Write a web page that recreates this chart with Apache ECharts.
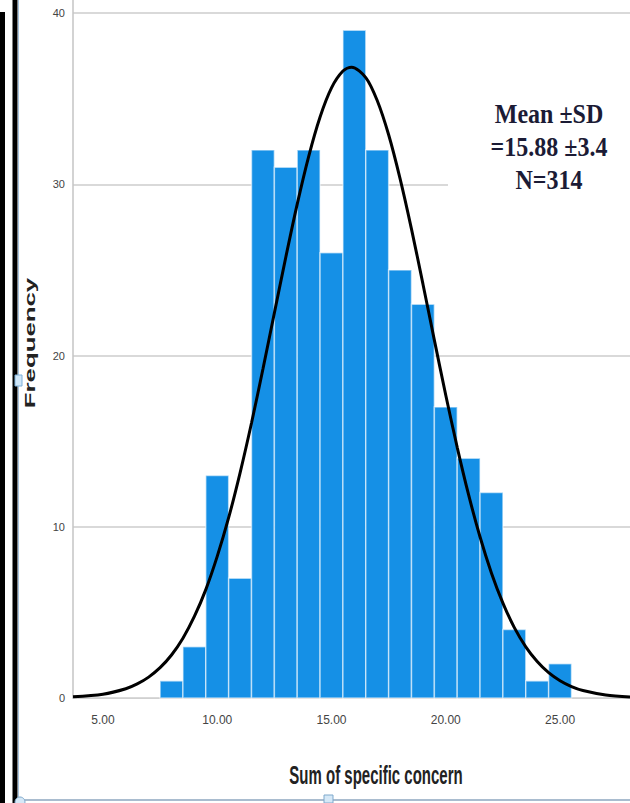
<!DOCTYPE html>
<html>
<head>
<meta charset="utf-8">
<title>Sum of specific concern</title>
<script src="https://cdn.jsdelivr.net/npm/echarts@6/dist/echarts.min.js"></script>
<style>
  html, body { margin: 0; padding: 0; background: #fff; }
  #chart { width: 630px; height: 803px; }
</style>
</head>
<body>
<div id="chart"></div>
<script>
// histogram: bin centres and counts (N = 314)
const binCenters = [8, 9, 10, 11, 12, 13, 14, 15, 16, 17, 18, 19, 20, 21, 22, 23, 24, 25];
const counts = [1, 3, 13, 7, 32, 31, 32, 26, 39, 32, 25, 23, 17, 14, 12, 4, 1, 2];
const binWidth = 1;

// normal curve, points
const curveX = [3.69, 5, 6, 6.5, 7, 7.5, 8, 8.5, 9, 9.5, 10, 10.5, 11, 11.5, 12, 12.5, 13, 13.5, 14, 14.5,
  15, 15.5, 15.88, 16.5, 17, 17.5, 18, 18.5, 19, 19.5, 20, 20.5, 21, 21.5, 22, 22.5, 23, 23.5, 24, 24.5,
  25, 25.5, 26, 27, 28.06];
const curveY = [0.07, 0.22, 0.54, 0.82, 1.22, 1.77, 2.51, 3.49, 4.76, 6.33, 8.27, 10.53, 13.15, 16.06, 19.21, 22.48, 25.74, 28.84, 31.62, 33.93,
  35.63, 36.61, 36.84, 36.23, 34.89, 32.89, 30.33, 27.38, 24.18, 20.9, 17.68, 14.64, 11.86, 9.4, 7.29, 5.54, 4.11, 2.99, 2.13, 1.48,
  1.01, 0.67, 0.44, 0.18, 0.06];

const xTicks = [5, 10, 15, 20, 25];
const yTicks = [0, 10, 20, 30, 40];

const statsText = ['Mean \u00b1SD', '=15.88 \u00b13.4', 'N=314'];

const chart = echarts.init(document.getElementById('chart'), null, { renderer: 'svg' });

function renderBar(params, api) {
  const c = api.value(0);
  const v = api.value(1);
  const p0 = api.coord([c - binWidth / 2, v]);
  const p1 = api.coord([c + binWidth / 2, 0]);
  return {
    type: 'rect',
    shape: { x: p0[0], y: p0[1], width: p1[0] - p0[0], height: p1[1] - p0[1] },
    style: { fill: '#1590e6', stroke: 'rgba(255,255,255,0.55)', lineWidth: 1.5 }
  };
}

chart.setOption({
  animation: false,
  backgroundColor: '#fff',
  grid: { left: 73, right: 0, top: 0, bottom: 105 },
  xAxis: {
    type: 'value',
    min: 3.69,
    max: 28.06,
    axisLine: { lineStyle: { color: '#d0d0d0', width: 1 } },
    axisTick: { show: false, customValues: xTicks },
    axisLabel: {
      customValues: xTicks,
      formatter: v => v.toFixed(2),
      fontSize: 12,
      fontFamily: 'Liberation Sans',
      color: '#444',
      margin: 16
    },
    splitLine: { show: false }
  },
  yAxis: {
    type: 'value',
    min: 0,
    max: 40.76,
    axisLine: { show: true, lineStyle: { color: '#c4c4c4', width: 1.5 } },
    axisTick: { show: false, customValues: yTicks },
    axisLabel: {
      customValues: yTicks,
      fontSize: 11,
      fontFamily: 'Liberation Sans',
      color: '#444',
      margin: 8
    },
    splitLine: { lineStyle: { color: '#d9d9d9', width: 2 } }
  },
  series: [
    {
      type: 'custom',
      renderItem: renderBar,
      encode: { x: 0, y: 1 },
      data: binCenters.map((c, i) => [c, counts[i]]),
      z: 2
    },
    {
      type: 'line',
      data: curveX.map((x, i) => [x, curveY[i]]),
      smooth: 0.3,
      symbol: 'none',
      lineStyle: { color: '#000', width: 3 },
      z: 3
    }
  ],
  graphic: [
    // white box behind the stats text (hides part of the 30 gridline)
    { type: 'rect', z: 1, shape: { x: 448, y: 92, width: 182, height: 104 }, style: { fill: '#fff' } },
    {
      type: 'text', z: 10, x: 549, y: 147, scaleY: 1.13,
      style: {
        text: statsText.join('\n'),
        font: 'bold 24px "Liberation Serif"',
        fill: '#1b1b35',
        align: 'center', verticalAlign: 'middle',
        textAlign: 'center', textVerticalAlign: 'middle',
        lineHeight: 29
      }
    },
    {
      type: 'text', z: 10, x: 30, y: 343, rotation: Math.PI / 2, scaleX: 1.72,
      style: {
        text: 'Frequency',
        font: 'bold 15px "Liberation Sans"',
        fill: '#222',
        align: 'center', verticalAlign: 'middle',
        textAlign: 'center', textVerticalAlign: 'middle'
      }
    },
    {
      type: 'text', z: 10, x: 376, y: 775, scaleY: 1.7,
      style: {
        text: 'Sum of specific concern',
        font: 'bold 15px "Liberation Sans"',
        fill: '#222',
        align: 'center', verticalAlign: 'middle',
        textAlign: 'center', textVerticalAlign: 'middle'
      }
    },
    // frame bits from the screenshot
    { type: 'rect', z: 10, shape: { x: 0, y: 12, width: 5, height: 791 }, style: { fill: '#000' } },
    { type: 'rect', z: 10, shape: { x: 12.5, y: 0, width: 5, height: 803 }, style: { fill: '#000' } },
    { type: 'rect', z: 10, shape: { x: 18, y: 0, width: 1, height: 803 }, style: { fill: '#a8c4de' } },
    { type: 'rect', z: 11, shape: { x: 15, y: 375, width: 7, height: 11 }, style: { fill: '#cfe6f8', stroke: '#7fb0d8', lineWidth: 1 } },
    { type: 'rect', z: 10, shape: { x: 18, y: 799, width: 612, height: 2 }, style: { fill: '#a9bccf' } },
    { type: 'rect', z: 11, shape: { x: 324, y: 795, width: 9, height: 8 }, style: { fill: '#d5e8f7', stroke: '#7fa9cc', lineWidth: 1 } },
    { type: 'circle', z: 11, shape: { cx: 20, cy: 802, r: 5 }, style: { fill: '#d5e8f7', stroke: '#7fa9cc', lineWidth: 1 } }
  ]
});
</script>
</body>
</html>
